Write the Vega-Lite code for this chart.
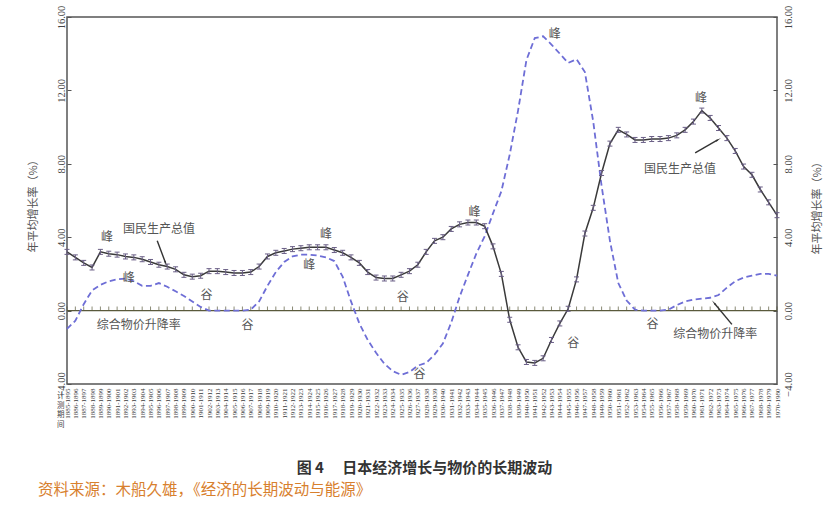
{
  "$schema": "https://vega.github.io/schema/vega-lite/v6.json",
  "width": 710,
  "height": 367,
  "autosize": "none",
  "padding": {"left": 67, "top": 17, "right": 59, "bottom": 143},
  "background": "white",
  "config": {
    "view": {"stroke": "#555", "strokeWidth": 1.5},
    "font": "Noto Sans CJK SC"
  },
  "title": {
    "text": "资料来源：木船久雄，《经济的长期波动与能源》",
    "orient": "bottom",
    "anchor": "start",
    "frame": "group",
    "dx": -29,
    "offset": 8,
    "fontSize": 15.5,
    "fontWeight": "normal",
    "color": "#d8802e"
  },
  "datasets": {
    "series": [
      {"period": "1885-1895", "gnp": 3.2, "price": -1.0},
      {"period": "1886-1896", "gnp": 2.9, "price": -0.55},
      {"period": "1887-1897", "gnp": 2.6, "price": 0.35},
      {"period": "1888-1898", "gnp": 2.35, "price": 1.1},
      {"period": "1889-1899", "gnp": 3.2, "price": 1.4},
      {"period": "1890-1900", "gnp": 3.1, "price": 1.6},
      {"period": "1891-1901", "gnp": 3.05, "price": 1.7},
      {"period": "1892-1902", "gnp": 2.95, "price": 1.75},
      {"period": "1893-1903", "gnp": 2.9, "price": 1.6},
      {"period": "1894-1904", "gnp": 2.8, "price": 1.35},
      {"period": "1895-1905", "gnp": 2.65, "price": 1.35},
      {"period": "1896-1906", "gnp": 2.5, "price": 1.5},
      {"period": "1897-1907", "gnp": 2.4, "price": 1.3},
      {"period": "1898-1908", "gnp": 2.25, "price": 1.05},
      {"period": "1899-1909", "gnp": 1.95, "price": 0.8},
      {"period": "1900-1910", "gnp": 1.85, "price": 0.5},
      {"period": "1901-1911", "gnp": 1.9, "price": 0.2},
      {"period": "1902-1912", "gnp": 2.15, "price": 0.0},
      {"period": "1903-1913", "gnp": 2.15, "price": 0.0},
      {"period": "1904-1914", "gnp": 2.1, "price": 0.0},
      {"period": "1905-1915", "gnp": 2.05, "price": 0.0},
      {"period": "1906-1916", "gnp": 2.05, "price": 0.0},
      {"period": "1907-1917", "gnp": 2.1, "price": 0.05},
      {"period": "1908-1918", "gnp": 2.4, "price": 0.5},
      {"period": "1909-1919", "gnp": 2.95, "price": 1.35},
      {"period": "1910-1920", "gnp": 3.15, "price": 2.1},
      {"period": "1911-1921", "gnp": 3.25, "price": 2.65},
      {"period": "1912-1922", "gnp": 3.35, "price": 2.95},
      {"period": "1913-1923", "gnp": 3.4, "price": 3.05},
      {"period": "1914-1924", "gnp": 3.45, "price": 3.05},
      {"period": "1915-1925", "gnp": 3.45, "price": 3.0},
      {"period": "1916-1926", "gnp": 3.45, "price": 2.9},
      {"period": "1917-1927", "gnp": 3.3, "price": 2.7},
      {"period": "1918-1928", "gnp": 3.15, "price": 1.85},
      {"period": "1919-1929", "gnp": 2.9, "price": 0.5},
      {"period": "1920-1930", "gnp": 2.6, "price": -0.7},
      {"period": "1921-1931", "gnp": 2.1, "price": -1.6},
      {"period": "1922-1932", "gnp": 1.8, "price": -2.3},
      {"period": "1923-1933", "gnp": 1.75, "price": -2.9},
      {"period": "1924-1934", "gnp": 1.75, "price": -3.3},
      {"period": "1925-1935", "gnp": 1.95, "price": -3.5},
      {"period": "1926-1936", "gnp": 2.15, "price": -3.35},
      {"period": "1927-1937", "gnp": 2.5, "price": -3.0},
      {"period": "1928-1938", "gnp": 3.2, "price": -2.85},
      {"period": "1929-1939", "gnp": 3.8, "price": -2.4},
      {"period": "1930-1940", "gnp": 4.0, "price": -1.8},
      {"period": "1931-1941", "gnp": 4.45, "price": -0.65},
      {"period": "1932-1942", "gnp": 4.7, "price": 0.75},
      {"period": "1933-1943", "gnp": 4.8, "price": 1.95},
      {"period": "1934-1944", "gnp": 4.8, "price": 3.1},
      {"period": "1935-1945", "gnp": 4.6, "price": 4.05},
      {"period": "1936-1946", "gnp": 3.5, "price": 5.3},
      {"period": "1937-1947", "gnp": 2.0, "price": 6.5},
      {"period": "1938-1948", "gnp": -0.5, "price": 8.5},
      {"period": "1939-1949", "gnp": -2.0, "price": 10.9},
      {"period": "1940-1950", "gnp": -2.8, "price": 13.65},
      {"period": "1941-1951", "gnp": -2.85, "price": 14.85},
      {"period": "1942-1952", "gnp": -2.6, "price": 14.95},
      {"period": "1943-1953", "gnp": -1.6, "price": 14.5},
      {"period": "1944-1954", "gnp": -0.7, "price": 14.0},
      {"period": "1945-1955", "gnp": 0.1, "price": 13.5},
      {"period": "1946-1956", "gnp": 1.7, "price": 13.7},
      {"period": "1947-1957", "gnp": 4.2, "price": 13.0},
      {"period": "1948-1958", "gnp": 5.6, "price": 10.3},
      {"period": "1949-1959", "gnp": 7.5, "price": 6.8},
      {"period": "1950-1960", "gnp": 9.1, "price": 3.8},
      {"period": "1951-1961", "gnp": 9.85, "price": 1.5},
      {"period": "1952-1962", "gnp": 9.6, "price": 0.55},
      {"period": "1953-1963", "gnp": 9.3, "price": 0.05},
      {"period": "1954-1964", "gnp": 9.3, "price": 0.0},
      {"period": "1955-1965", "gnp": 9.35, "price": 0.0},
      {"period": "1956-1966", "gnp": 9.35, "price": 0.0},
      {"period": "1957-1967", "gnp": 9.4, "price": 0.05},
      {"period": "1958-1968", "gnp": 9.55, "price": 0.3},
      {"period": "1959-1969", "gnp": 9.85, "price": 0.5},
      {"period": "1960-1970", "gnp": 10.3, "price": 0.6},
      {"period": "1961-1971", "gnp": 10.9, "price": 0.65},
      {"period": "1962-1972", "gnp": 10.5, "price": 0.7},
      {"period": "1963-1973", "gnp": 9.95, "price": 0.85},
      {"period": "1964-1974", "gnp": 9.4, "price": 1.25},
      {"period": "1965-1975", "gnp": 8.7, "price": 1.6},
      {"period": "1966-1976", "gnp": 7.85, "price": 1.8},
      {"period": "1967-1977", "gnp": 7.4, "price": 1.9},
      {"period": "1968-1978", "gnp": 6.6, "price": 2.0},
      {"period": "1969-1979", "gnp": 5.9, "price": 2.0},
      {"period": "1970-1980", "gnp": 5.2, "price": 1.9}
    ],
    "notes": [
      {"pos": 4.8, "value": 4.0, "label": "峰"},
      {"pos": 11.0, "value": 4.45, "label": "国民生产总值"},
      {"pos": 7.4, "value": 1.75, "label": "峰"},
      {"pos": 16.7, "value": 0.85, "label": "谷"},
      {"pos": 8.6, "value": -0.8, "label": "综合物价升降率"},
      {"pos": 21.6, "value": -0.8, "label": "谷"},
      {"pos": 31.0, "value": 4.2, "label": "峰"},
      {"pos": 29.0, "value": 2.5, "label": "峰"},
      {"pos": 40.2, "value": 0.75, "label": "谷"},
      {"pos": 48.8, "value": 5.35, "label": "峰"},
      {"pos": 42.2, "value": -3.45, "label": "谷"},
      {"pos": 60.6, "value": -1.75, "label": "谷"},
      {"pos": 58.4, "value": 15.1, "label": "峰"},
      {"pos": 70.1, "value": -0.75, "label": "谷"},
      {"pos": 77.6, "value": -1.3, "label": "综合物价升降率"},
      {"pos": 75.9, "value": 11.6, "label": "峰"},
      {"pos": 73.4, "value": 7.7, "label": "国民生产总值"}
    ],
    "corner": [
      {"pos": -0.75, "value": -4.45, "label": "计\n测\n期\n间"}
    ],
    "arrows": [
      {"id": "a", "pos": 10.8, "value": 3.8, "pos2": 11.8, "value2": 2.6},
      {"id": "b", "pos": 75.2, "value": 8.6, "pos2": 77.9, "value2": 9.3},
      {"id": "c", "pos": 79.6, "value": -0.75, "pos2": 77.5, "value2": 0.4}
    ]
  },
  "layer": [
    {
      "data": {"values": [{}]},
      "mark": {"type": "rule", "color": "#5a5a3c", "strokeWidth": 1.3},
      "encoding": {
        "y": {
          "datum": 0,
          "type": "quantitative",
          "scale": {"domain": [-4, 16], "nice": false, "zero": false},
          "axis": {
            "orient": "right",
            "values": [-4, 0, 4, 8, 12, 16],
            "format": ".2f",
            "labelAngle": -90,
            "labelFont": "Liberation Serif",
            "labelFontSize": 10.5,
            "labelColor": "#444",
            "labelPadding": 10,
            "tickSize": -4,
            "tickColor": "#555",
            "domain": false,
            "grid": false,
            "title": "年平均增长率（%）",
            "titleAngle": -90,
            "titleX": 40,
            "titleY": 188,
            "titleAlign": "center",
            "titleBaseline": "middle",
            "titleFontSize": 11,
            "titleFontWeight": "normal",
            "titleColor": "#555"
          }
        }
      }
    },
    {
      "data": {"name": "series"},
      "mark": {"type": "tick", "orient": "vertical", "size": 4, "thickness": 1, "color": "#5a5a3c", "yOffset": -2},
      "encoding": {
        "x": {"field": "period", "type": "ordinal", "scale": {"type": "point", "padding": 0}, "axis": null},
        "y": {"datum": 0, "type": "quantitative", "axis": null}
      }
    },
    {
      "data": {"name": "series"},
      "mark": {"type": "line", "color": "#6e6ed6", "strokeWidth": 1.8, "strokeDash": [6, 3.5]},
      "encoding": {
        "x": {
          "field": "period",
          "type": "ordinal",
          "scale": {"type": "point", "padding": 0},
          "axis": {
            "orient": "bottom",
            "labelAngle": -90,
            "labelFontSize": 7,
            "labelFont": "Liberation Serif",
            "labelColor": "#3a3a3a",
            "labelPadding": 4,
            "labelOverlap": false,
            "ticks": false,
            "domain": false,
            "grid": false,
            "title": "图 4　 日本经济增长与物价的长期波动",
            "titleX": 357,
            "titleY": 83,
            "titleAngle": 0,
            "titleAlign": "center",
            "titleBaseline": "middle",
            "titleFontSize": 15,
            "titleFontWeight": "bold",
            "titleColor": "#333"
          }
        },
        "y": {"field": "price", "type": "quantitative", "axis": null}
      }
    },
    {
      "data": {"name": "series"},
      "mark": {"type": "line", "color": "#3a3a3a", "strokeWidth": 1.5},
      "encoding": {
        "x": {"field": "period", "type": "ordinal", "scale": {"type": "point", "padding": 0}, "axis": null},
        "y": {
          "field": "gnp",
          "type": "quantitative",
          "axis": {
            "orient": "left",
            "values": [-4, 0, 4, 8, 12, 16],
            "format": ".2f",
            "labelAngle": -90,
            "labelFont": "Liberation Serif",
            "labelFontSize": 10.5,
            "labelColor": "#444",
            "labelPadding": 5,
            "tickSize": -4,
            "tickColor": "#555",
            "domain": false,
            "grid": false,
            "title": "年平均增长率（%）",
            "titleAngle": -90,
            "titleX": -34,
            "titleY": 186,
            "titleAlign": "center",
            "titleBaseline": "middle",
            "titleFontSize": 11,
            "titleFontWeight": "normal",
            "titleColor": "#555"
          }
        }
      }
    },
    {
      "data": {"name": "series"},
      "mark": {"type": "point", "shape": "M-1,-1H1M0,-1V1M-1,1H1", "size": 25, "filled": false, "color": "#6a5f86", "strokeWidth": 1, "opacity": 1},
      "encoding": {
        "x": {"field": "period", "type": "ordinal", "scale": {"type": "point", "padding": 0}, "axis": null},
        "y": {"field": "gnp", "type": "quantitative", "axis": null}
      }
    },
    {
      "data": {"name": "notes"},
      "mark": {"type": "text", "fontSize": 12, "color": "#555", "align": "center", "baseline": "middle"},
      "encoding": {
        "x": {"field": "pos", "type": "quantitative", "scale": {"domain": [0, 85], "nice": false, "zero": false}, "axis": null},
        "y": {"field": "value", "type": "quantitative", "axis": null},
        "text": {"field": "label"}
      }
    },
    {
      "data": {"name": "corner"},
      "mark": {"type": "text", "fontSize": 7.5, "lineHeight": 9.5, "lineBreak": "\n", "color": "#444", "align": "center", "baseline": "top"},
      "encoding": {
        "x": {"field": "pos", "type": "quantitative", "scale": {"domain": [0, 85], "nice": false, "zero": false}, "axis": null},
        "y": {"field": "value", "type": "quantitative", "axis": null},
        "text": {"field": "label"}
      }
    },
    {
      "data": {"name": "arrows"},
      "mark": {"type": "rule", "color": "#333", "strokeWidth": 1.4},
      "encoding": {
        "x": {"field": "pos", "type": "quantitative", "scale": {"domain": [0, 85], "nice": false, "zero": false}, "axis": null},
        "x2": {"field": "pos2"},
        "y": {"field": "value", "type": "quantitative", "axis": null},
        "y2": {"field": "value2"}
      }
    },
    {
      "data": {"name": "arrows"},
      "transform": [{"filter": "datum.id == 'a'"}],
      "mark": {"type": "point", "shape": "wedge", "angle": 160, "size": 45, "filled": true, "color": "#333", "opacity": 1},
      "encoding": {
        "x": {"field": "pos2", "type": "quantitative", "scale": {"domain": [0, 85], "nice": false, "zero": false}, "axis": null},
        "y": {"field": "value2", "type": "quantitative", "axis": null}
      }
    },
    {
      "data": {"name": "arrows"},
      "transform": [{"filter": "datum.id == 'b'"}],
      "mark": {"type": "point", "shape": "wedge", "angle": 60, "size": 45, "filled": true, "color": "#333", "opacity": 1},
      "encoding": {
        "x": {"field": "pos2", "type": "quantitative", "scale": {"domain": [0, 85], "nice": false, "zero": false}, "axis": null},
        "y": {"field": "value2", "type": "quantitative", "axis": null}
      }
    },
    {
      "data": {"name": "arrows"},
      "transform": [{"filter": "datum.id == 'c'"}],
      "mark": {"type": "point", "shape": "wedge", "angle": 319, "size": 45, "filled": true, "color": "#333", "opacity": 1},
      "encoding": {
        "x": {"field": "pos2", "type": "quantitative", "scale": {"domain": [0, 85], "nice": false, "zero": false}, "axis": null},
        "y": {"field": "value2", "type": "quantitative", "axis": null}
      }
    }
  ],
  "resolve": {"scale": {"x": "independent"}, "axis": {"y": "independent"}}
}
